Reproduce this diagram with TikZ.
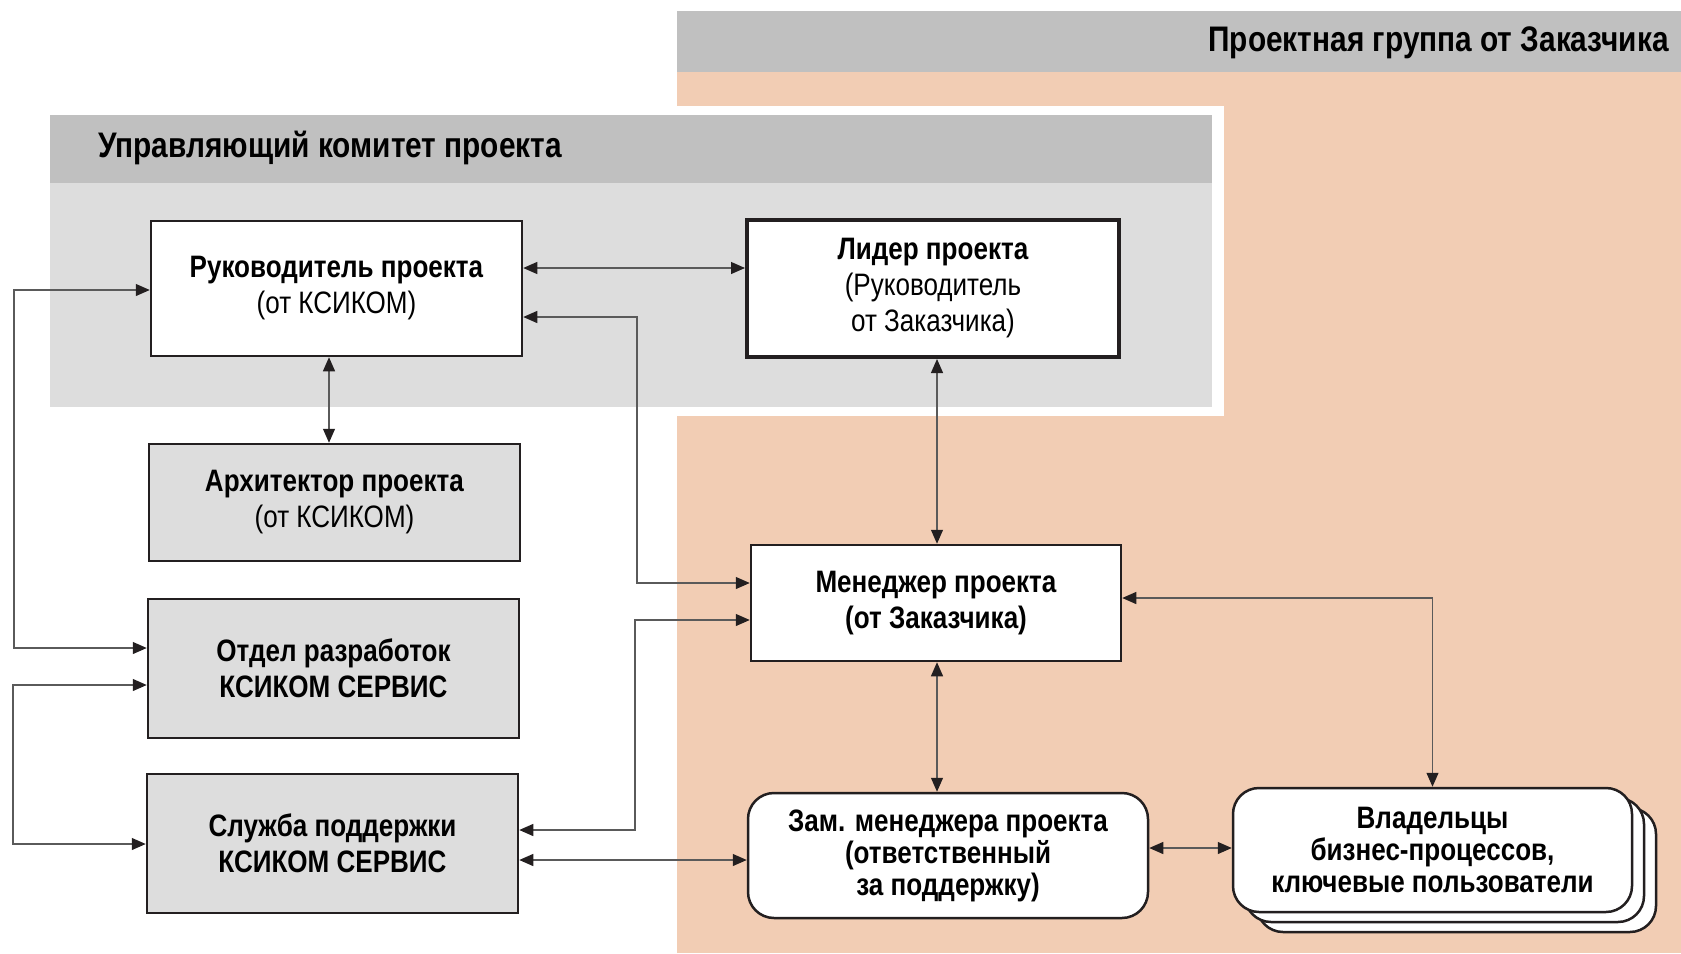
\documentclass[tikz,border=0pt]{standalone}
\usepackage{fontspec}
\setmainfont{Liberation Sans}[FakeStretch=0.84]
\usetikzlibrary{arrows.meta,shadows}
\definecolor{bandgray}{HTML}{C0C0C0}
\definecolor{panelgray}{HTML}{DDDDDD}
\definecolor{peach}{HTML}{F2CDB4}
\definecolor{linegray}{HTML}{5A5A5A}
\definecolor{ink}{HTML}{231F20}
\begin{document}
\begin{tikzpicture}[x=1pt,y=-1pt,
	tip/.tip={Triangle[length=14pt,width=12pt,color=ink]},
	box/.style={draw=ink,line width=2.5pt,minimum width=371pt,minimum height=135pt,
		align=center,inner sep=0pt,font=\fontsize{31}{36}\selectfont},
	graybox/.style={box,fill=panelgray},
	whitebox/.style={box,fill=white},
	roundbox/.style={whitebox,rounded corners=26pt,minimum width=400pt,minimum height=125pt,
		font=\fontsize{31}{32}\selectfont\bfseries},
	title/.style={inner sep=0pt,font=\fontsize{35.5}{40}\selectfont\bfseries},
	link/.style={draw=linegray,line width=1.2pt,tip-tip}]
	\useasboundingbox (0,0) rectangle (1681,953);
	% backgrounds
	\fill [peach] (677,72) rectangle (1681,953);
	\fill [bandgray] (677,11) rectangle (1681,72);
	\node [title,anchor=east] (grouptitle) at (1669,43) {Проектная группа от Заказчика};
	\fill [white] (677,106) rectangle (1224,416);
	\fill [panelgray] (50,183) rectangle (1212,407);
	\fill [bandgray] (50,115) rectangle (1212,183);
	\node [title,anchor=west] (committeetitle) at (98,148) {Управляющий комитет проекта};
	% boxes
	\node [whitebox] (rukov) at (336.5,288.5) {\textbf{Руководитель проекта}\\(от КСИКОМ)};
	\node [whitebox,line width=4pt,minimum width=372pt,minimum height=137pt] (lider) at (933,288.5)
		{\textbf{Лидер проекта}\\(Руководитель\\от Заказчика)};
	\node [graybox,minimum height=117pt] (arkh) at (334.5,502.5) {\textbf{Архитектор проекта}\\(от КСИКОМ)};
	\node [graybox,minimum height=139pt,font=\fontsize{31}{36}\selectfont\bfseries] (otdel) at (333.5,668.5)
		{Отдел разработок\\КСИКОМ СЕРВИС};
	\node [graybox,minimum height=139pt,font=\fontsize{31}{36}\selectfont\bfseries] (sluzhba) at (332.5,843.5)
		{Служба поддержки\\КСИКОМ СЕРВИС};
	\node [whitebox,minimum width=370pt,minimum height=116pt,font=\fontsize{31}{36}\selectfont\bfseries] (menedzher) at (936,603)
		{Менеджер проекта\\(от Заказчика)};
	\node [roundbox] (zam) at (948,855.5) {Зам. менеджера проекта\\(ответственный\\за поддержку)};
	\node [roundbox,minimum width=399pt,minimum height=124pt,
		double copy shadow={shadow xshift=12pt,shadow yshift=-10pt}] (vlad) at (1432.5,850)
		{Владельцы\\бизнес-процессов,\\ключевые пользователи};
	% connectors
	\draw [link] (rukov.east |- 0,268) -- (lider.west |- 0,268);
	\draw [link] (menedzher.west |- 0,583) -| (637,317) -- (rukov.east |- 0,317);
	\draw [link] (rukov.south -| 329,0) -- (arkh.north -| 329,0);
	\draw [link] (lider.south -| 937,0) -- (menedzher.north -| 937,0);
	\draw [link] (rukov.west |- 0,290) -| (14,648) -- (otdel.west |- 0,648);
	\draw [link] (otdel.west |- 0,685) -| (13,844) -- (sluzhba.west |- 0,844);
	\draw [link] (sluzhba.east |- 0,830) -| (635,620) -- (menedzher.west |- 0,620);
	\draw [link] (sluzhba.east |- 0,860) -- (zam.west |- 0,860);
	\draw [link] (menedzher.south -| 937,0) -- (zam.north -| 937,0);
	\draw [link] (menedzher.east |- 0,598) -| (vlad.north);
	\draw [link] (zam.east |- 0,848) -- (vlad.west |- 0,848);
\end{tikzpicture}
\end{document}
